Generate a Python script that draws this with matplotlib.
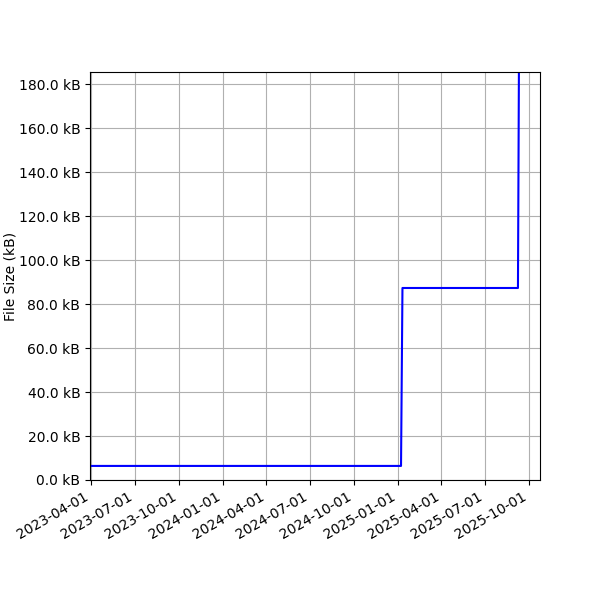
import numpy as np
import pandas as pd
import matplotlib
matplotlib.use('Agg')
import matplotlib.pyplot as plt
import matplotlib.dates as mdates
from matplotlib.ticker import FuncFormatter, MultipleLocator

dates = pd.to_datetime(['2023-03-30', '2025-01-07', '2025-01-10', '2025-09-08', '2025-09-10'])
sizes_kb = [6.4, 6.4, 87.3, 87.3, 186.0]

fig, ax = plt.subplots(figsize=(6, 6), dpi=100)
ax.plot(dates, sizes_kb, color='blue')
ax.set_ylabel('File Size (kB)', labelpad=1)
ax.yaxis.set_major_locator(MultipleLocator(20))
ax.yaxis.set_major_formatter(FuncFormatter(lambda v, p: '%.1f kB' % v))
ax.xaxis.set_major_locator(mdates.MonthLocator(bymonth=[1, 4, 7, 10]))
ax.xaxis.set_major_formatter(mdates.DateFormatter('%Y-%m-%d'))
ax.set_xlim(pd.Timestamp('2023-03-30'), pd.Timestamp('2025-10-24'))
ax.set_ylim(0, 185.5)
ax.grid(True)
fig.autofmt_xdate()
fig.subplots_adjust(left=0.15, right=0.9, top=0.88, bottom=0.2)
fig.savefig('out.png')
